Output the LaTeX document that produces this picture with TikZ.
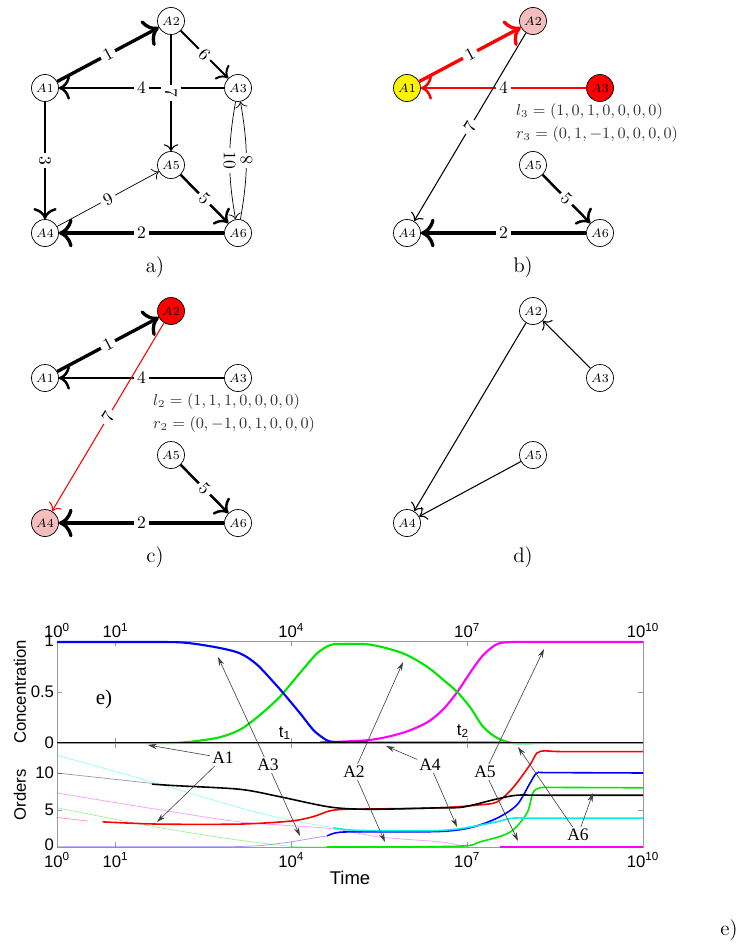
\documentclass[tikz,border=0pt]{standalone}
\usepackage{amsmath}
\usepackage{fontspec}
\usepackage{tikz}
\usetikzlibrary{arrows.meta}
\newfontfamily\plotsf{Liberation Sans}
\newfontfamily\plotrm{Liberation Serif}
\definecolor{pnkfill}{HTML}{F5BDBD}
\definecolor{frmgray}{HTML}{9A9A9A}
\definecolor{mred}{RGB}{255,0,0}
\definecolor{mgreen}{RGB}{0,230,0}
\definecolor{mblue}{RGB}{0,0,255}
\definecolor{mcyan}{RGB}{0,240,240}
\definecolor{mmagenta}{RGB}{255,0,255}
\tikzset{
  spnode/.style={circle,draw=black,minimum size=5.4mm,inner sep=0pt,font=\scriptsize},
  ylwnode/.style={spnode,fill=yellow},
  rednode/.style={spnode,fill=mred},
  pnknode/.style={spnode,fill=pnkfill},
  rxn/.style={-{Computer Modern Rightarrow[scale=1.35]},draw=black},
  wA/.style={line width=1.9pt},
  wB/.style={line width=1.4pt},
  wC/.style={line width=1.1pt},
  wD/.style={line width=0.6pt},
  wE/.style={line width=0.4pt},
  wlbl/.style={midway,sloped,fill=white,inner sep=2pt,font=\normalsize,text=black},
  capt/.style={font=\large},
  vecl/.style={anchor=west,font=\small,text=black!80},
  frm/.style={draw=frmgray,line width=0.5pt},
  tcklbl/.style={font=\plotsf\fontsize{9.5}{11}\selectfont,inner sep=1.5pt},
  axlbl/.style={font=\plotsf\fontsize{9.5}{12}\selectfont},
  crvU/.style={line width=1.2pt},
  crvL/.style={line width=0.9pt},
  faint/.style={line width=0.4pt,opacity=0.4},
  annlbl/.style={font=\plotrm\fontsize{10}{12}\selectfont,inner sep=1pt},
  annarr/.style={-{Stealth[length=5pt,width=3pt]},black!75,line width=0.35pt},
}

\begin{document}
\begin{tikzpicture}
  \useasboundingbox (0,0) rectangle (14.86,-18.88);
  % a) full network
  \node[spnode] (nA1a) at (0.90,-1.76) {$A1$};
  \node[spnode] (nA2a) at (3.42,-0.42) {$A2$};
  \node[spnode] (nA3a) at (4.76,-1.76) {$A3$};
  \node[spnode] (nA4a) at (0.90,-4.66) {$A4$};
  \node[spnode] (nA5a) at (3.42,-3.30) {$A5$};
  \node[spnode] (nA6a) at (4.76,-4.66) {$A6$};
  \draw[rxn,wA] (nA1a) -- node[wlbl] {1} (nA2a);
  \draw[rxn,wC] (nA2a) -- node[wlbl] {6} (nA3a);
  \draw[rxn,wB] (nA3a) -- node[wlbl] {4} (nA1a);
  \draw[rxn,wD] (nA2a) -- node[wlbl] {7} (nA5a);
  \draw[rxn,wB] (nA1a) -- node[wlbl] {3} (nA4a);
  \draw[rxn,wE] (nA4a) -- node[wlbl] {9} (nA5a);
  \draw[rxn,wB] (nA5a) -- node[wlbl] {5} (nA6a);
  \draw[rxn,wA] (nA6a) -- node[wlbl] {2} (nA4a);
  \draw[rxn,wE] (nA3a) to[bend right=10] node[wlbl] {10} (nA6a);
  \draw[rxn,wE] (nA6a) to[bend right=10] node[wlbl] {8} (nA3a);
  \node[capt] (capa) at (3.10,-5.34) {a)};

  % b) first step
  \node[ylwnode] (nA1b) at (8.14,-1.76) {$A1$};
  \node[pnknode] (nA2b) at (10.66,-0.42) {$A2$};
  \node[rednode] (nA3b) at (12.00,-1.76) {$A3$};
  \node[spnode] (nA4b) at (8.14,-4.66) {$A4$};
  \node[spnode] (nA5b) at (10.66,-3.30) {$A5$};
  \node[spnode] (nA6b) at (12.00,-4.66) {$A6$};
  \draw[rxn,wA,draw=mred] (nA1b) -- node[wlbl] {1} (nA2b);
  \draw[rxn,wB,draw=mred] (nA3b) -- node[wlbl] {4} (nA1b);
  \draw[rxn,wD] (nA2b) -- node[wlbl] {7} (nA4b);
  \draw[rxn,wB] (nA5b) -- node[wlbl] {5} (nA6b);
  \draw[rxn,wA] (nA6b) -- node[wlbl] {2} (nA4b);
  \node[vecl] (lvb) at (10.20,-2.24) {$l_3=(1,0,1,0,0,0,0)$};
  \node[vecl] (rvb) at (10.20,-2.70) {$r_3=(0,1,-1,0,0,0,0)$};
  \node[capt] (capb) at (10.46,-5.34) {b)};

  % c) second step
  \node[spnode] (nA1c) at (0.90,-7.56) {$A1$};
  \node[rednode] (nA2c) at (3.42,-6.22) {$A2$};
  \node[spnode] (nA3c) at (4.76,-7.56) {$A3$};
  \node[pnknode] (nA4c) at (0.90,-10.46) {$A4$};
  \node[spnode] (nA5c) at (3.42,-9.10) {$A5$};
  \node[spnode] (nA6c) at (4.76,-10.46) {$A6$};
  \draw[rxn,wA] (nA1c) -- node[wlbl] {1} (nA2c);
  \draw[rxn,wB] (nA3c) -- node[wlbl] {4} (nA1c);
  \draw[rxn,wD,draw=mred] (nA2c) -- node[wlbl] {7} (nA4c);
  \draw[rxn,wB] (nA5c) -- node[wlbl] {5} (nA6c);
  \draw[rxn,wA] (nA6c) -- node[wlbl] {2} (nA4c);
  \node[vecl] (lvc) at (2.94,-8.04) {$l_2=(1,1,1,0,0,0,0)$};
  \node[vecl] (rvc) at (2.94,-8.50) {$r_2=(0,-1,0,1,0,0,0)$};
  \node[capt] (capc) at (3.10,-11.14) {c)};

  % d) reduced network
  \node[spnode] (nA2d) at (10.66,-6.22) {$A2$};
  \node[spnode] (nA3d) at (12.00,-7.56) {$A3$};
  \node[spnode] (nA5d) at (10.66,-9.10) {$A5$};
  \node[spnode] (nA4d) at (8.14,-10.46) {$A4$};
  \draw[rxn,wD] (nA2d) -- (nA4d);
  \draw[rxn,wD] (nA3d) -- (nA2d);
  \draw[rxn,wD] (nA5d) -- (nA4d);
  \node[capt] (capd) at (10.46,-11.14) {d)};

  % e) concentrations
  \begin{scope}[shift={(1.14,-14.86)},x=1.172cm,y=2.04cm]
    \draw[frm] (0,0) rectangle (10,1);
    \foreach \d in {1,4,7} {
      \draw[frm] (\d,0) -- (\d,0.05);
      \draw[frm] (\d,1) -- (\d,0.95);
    }
    \draw[frm] (0,0.5) -- (0.085,0.5);
    \draw[frm] (10,0.5) -- (9.915,0.5);
    \foreach \d in {0,1,4,7,10}
      \node[tcklbl,above] (tu\d) at (\d,1) {10\textsuperscript{\d}};
    \node[tcklbl,left] (yu1) at (0,1) {1};
    \node[tcklbl,left] (yu5) at (0,0.5) {0.5};
    \node[tcklbl,left] (yu0) at (0,0) {0};
    \draw[crvU,mcyan] (4.5,0.012) -- (7.6,0.012);
    \draw[crvU,mmagenta] plot[smooth,tension=0.5] coordinates {(4.49,0.006) (5.34,0.03) (5.90,0.10) (6.31,0.20) (6.59,0.33) (6.83,0.50) (7.05,0.69) (7.27,0.86) (7.51,0.97) (7.78,0.99) (8.3,0.99) (10,0.99)};
    \draw[crvU,mgreen] plot[smooth,tension=0.5] coordinates {(1.5,0) (2.10,0.003) (2.73,0.05) (3.12,0.13) (3.41,0.25) (3.69,0.39) (3.86,0.49) (4.15,0.69) (4.44,0.88) (4.66,0.96) (4.83,0.97) (5.34,0.965) (5.90,0.88) (6.31,0.75) (6.59,0.62) (6.83,0.50) (7.05,0.35) (7.27,0.16) (7.51,0.05) (7.78,0.0) (8.2,0)};
    \draw[crvU,mblue] plot[smooth,tension=0.5] coordinates {(0,0.99) (1.5,0.99) (2.15,0.985) (2.70,0.94) (3.12,0.88) (3.41,0.77) (3.69,0.60) (3.86,0.49) (4.15,0.29) (4.37,0.13) (4.54,0.05) (4.66,0.015) (4.91,0.005) (5.3,0.005)};
    \draw[crvU,black] (0,0) -- (10,0);
  \end{scope}

  % e) orders
  \begin{scope}[shift={(1.14,-16.94)},x=1.172cm,y=0.148cm]
    \draw[frm] (0,0) rectangle (10,14.05);
    \foreach \d in {1,4,7} {
      \draw[frm] (\d,0) -- (\d,0.68);
      \draw[frm] (\d,14.05) -- (\d,13.37);
    }
    \foreach \v in {5,10} {
      \draw[frm] (0,\v) -- (0.085,\v);
      \draw[frm] (10,\v) -- (9.915,\v);
    }
    \foreach \d in {0,1,4,7,10}
      \node[tcklbl,below,inner sep=3pt] (tl\d) at (\d,0) {10\textsuperscript{\d}};
    \node[tcklbl,left] (yl10) at (0,10) {10};
    \node[tcklbl,left] (yl5) at (0,5) {5};
    \node[tcklbl,left] (yl0) at (0,0.3) {0};
    % faded parts
    \draw[faint,mblue] plot[smooth,tension=0.5] coordinates {(0,0.05) (3.0,0.05) (3.81,0.5) (4.37,1.2) (4.61,1.5)};
    \draw[faint,mgreen] plot[smooth,tension=0.5] coordinates {(0,5.3) (1.62,2.8) (2.95,1.1) (3.98,0.1) (4.6,0)};
    \draw[faint,mmagenta] plot[smooth,tension=0.5] coordinates {(0,7.3) (1.62,5.2) (3.12,3.4) (4.66,2.5) (5.51,1.35) (6.54,0.7) (6.83,0.3) (7.0,0.1)};
    \draw[faint,mcyan] plot[smooth,tension=0.5] coordinates {(0,12.4) (1.62,8.8) (3.12,5.3) (4.0,3.6) (4.66,2.7)};
    \draw[faint,black] (0,10) -- (1.62,8.6);
    \draw[faint,mred] (0,4.0) -- (0.53,3.5);
    % bold parts
    \draw[crvL,mmagenta] (7.56,0) -- (10,0);
    \draw[crvL,mgreen] plot[smooth,tension=0.5] coordinates {(4.6,0) (6.83,0.1) (7.22,0.7) (7.73,2.0) (8.02,4.6) (8.12,7.3) (8.24,8.0) (8.5,8.05) (10,8.0)};
    \draw[crvL,mblue] plot[smooth,tension=0.5] coordinates {(4.61,1.5) (4.83,2.0) (5.5,2.05) (6.54,2.1) (7.05,2.6) (7.51,3.9) (7.85,5.7) (8.07,8.6) (8.19,10) (8.4,10.05) (10,10)};
    \draw[crvL,mcyan] plot[smooth,tension=0.5] coordinates {(4.71,2.6) (5.0,2.3) (5.5,2.2) (6.4,2.2) (6.9,2.5) (7.5,3.4) (7.78,3.9) (8.2,3.9) (10,3.9)};
    \draw[crvL,mred] plot[smooth,tension=0.5] coordinates {(0.78,3.4) (1.71,3.1) (3.12,3.1) (3.98,3.5) (4.37,4.1) (4.66,4.9) (4.95,5.1) (5.5,5.15) (6.54,5.3) (7.22,5.7) (7.51,6.1) (7.78,8.0) (8.07,11.1) (8.19,12.7) (8.33,13.0) (8.6,12.9) (10,12.9)};
    \draw[crvL,black] plot[smooth,tension=0.5] coordinates {(1.62,8.5) (2.0,8.3) (3.12,7.8) (3.80,6.8) (4.66,5.4) (5.34,5.1) (6.54,5.3) (6.93,5.4) (7.51,6.5) (7.85,7.0) (8.3,7.0) (10,7.0)};
  \end{scope}

  \node[axlbl,rotate=90] (ylconc) at (0.40,-13.84) {Concentration};
  \node[axlbl,rotate=90] (ylord) at (0.40,-15.90) {Orders};
  \node[axlbl,font=\plotsf\fontsize{10.5}{12}\selectfont] (xltime) at (7.00,-17.56) {Time};
  \node[tcklbl] (tone) at (5.70,-14.66) {t\textsubscript{1}};
  \node[tcklbl] (ttwo) at (9.26,-14.62) {t\textsubscript{2}};
  \node[font=\plotrm\fontsize{12}{14}\selectfont] (eplot) at (2.08,-13.98) {e)};

  % species labels
  \coordinate (pA1u) at (2.96,-14.90);
  \coordinate (pA1l) at (3.14,-16.44);
  \coordinate (pA3u) at (4.36,-13.14);
  \coordinate (pA3l) at (6.00,-16.72);
  \coordinate (pA2u) at (8.06,-13.24);
  \coordinate (pA2l) at (7.70,-16.84);
  \coordinate (pA4u) at (7.72,-14.92);
  \coordinate (pA4l) at (9.14,-16.54);
  \coordinate (pA5u) at (10.88,-12.98);
  \coordinate (pA5l) at (10.36,-16.82);
  \coordinate (pA6u) at (10.36,-14.94);
  \coordinate (pA6l) at (11.86,-15.86);
  \node[annlbl] (lA1) at (4.46,-15.16) {A1};
  \node[annlbl] (lA3) at (5.36,-15.30) {A3};
  \node[annlbl] (lA2) at (7.08,-15.44) {A2};
  \node[annlbl] (lA4) at (8.60,-15.30) {A4};
  \node[annlbl] (lA5) at (9.70,-15.44) {A5};
  \node[annlbl] (lA6) at (11.56,-16.70) {A6};
  \foreach \s in {A1,A2,A3,A4,A5,A6} {
    \draw[annarr] (l\s) -- (p\s u);
    \draw[annarr] (l\s) -- (p\s l);
  }
  \node[capt] (cape) at (14.58,-18.60) {e)};
\end{tikzpicture}
\end{document}
